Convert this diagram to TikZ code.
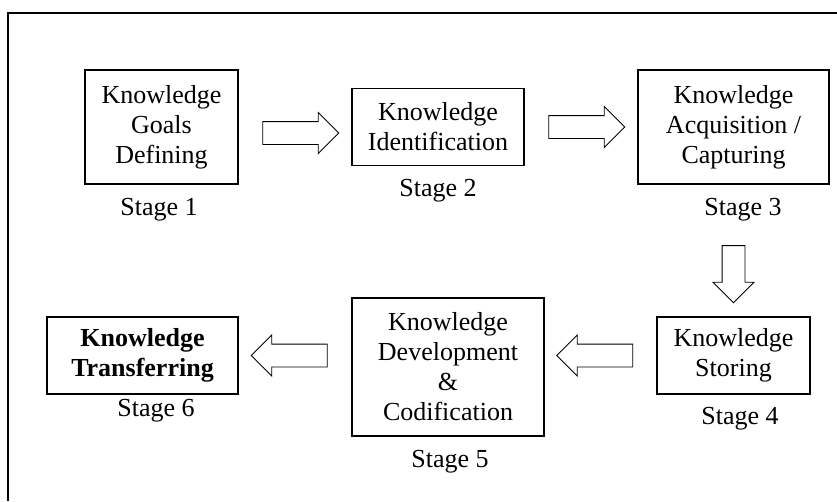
\documentclass[tikz,border=0pt]{standalone}
\usepackage{fontspec}
\setmainfont{Liberation Serif}
\usetikzlibrary{shapes.arrows,calc}

\tikzset{
  stagebox/.style={draw, line width=1.8pt, align=center, inner sep=0pt},
  stagelabel/.style={anchor=base, inner sep=0pt},
  flowarrow/.style={draw, line width=0.9pt, single arrow, single arrow head extend=9pt,
    minimum height=76pt, minimum width=0pt, inner xsep=0pt, inner ysep=11pt}
}

\begin{document}
\begin{tikzpicture}[x=1pt, y=-1pt, font=\fontsize{26}{30}\selectfont]
  \useasboundingbox (0,0) rectangle (837,501);
  % frame, only its top and left edges are in view
  \draw[line width=2pt] (8,501) -- (8,13) -- (837,13);
  % the six stages
  \node[stagebox, minimum width=153pt, minimum height=114pt] (b1) at (161.5,127) {Knowledge\\Goals\\Defining};
  \node[stagebox, minimum width=172pt, minimum height=77pt] (b2) at (438,127) {Knowledge\\Identification};
  \node[stagebox, minimum width=191pt, minimum height=114pt] (b3) at (733.5,127) {Knowledge\\Acquisition /\\Capturing};
  \node[stagebox, minimum width=153pt, minimum height=77pt] (b4) at (733.5,355.5) {Knowledge\\Storing};
  \node[stagebox, minimum width=192pt, minimum height=138pt] (b5) at (448,367) {Knowledge\\Development\\\&\\Codification};
  \node[stagebox, minimum width=191pt, minimum height=77pt, font=\fontsize{26}{30}\selectfont\bfseries] (b6) at (142.5,355.5) {Knowledge\\Transferring};
  % labels under the boxes
  \node[stagelabel] (s1) at (159,215) {Stage 1};
  \node[stagelabel] (s2) at (438,196) {Stage 2};
  \node[stagelabel] (s3) at (743,215) {Stage 3};
  \node[stagelabel] (s4) at (740,424) {Stage 4};
  \node[stagelabel] (s5) at (450,467) {Stage 5};
  \node[stagelabel] (s6) at (156,416) {Stage 6};
  % block arrows between stages
  \node[flowarrow, yshift=-6pt] (a12) at ($(b1.east)!0.5!(b2.west)$) {};
  \node[flowarrow] (a23) at ($(b2.east)!0.5!(b3.west)$) {};
  \node[flowarrow, rotate=-90, minimum height=57pt] (a34) at ($(s3.south -| b4.north)!0.5!(b4.north)$) {};
  \node[flowarrow, rotate=180] (a45) at ($(b4.west)!0.5!(b5.east |- b4.west)$) {};
  \node[flowarrow, rotate=180] (a56) at ($(b5.west |- b6.east)!0.5!(b6.east)$) {};
\end{tikzpicture}
\end{document}
